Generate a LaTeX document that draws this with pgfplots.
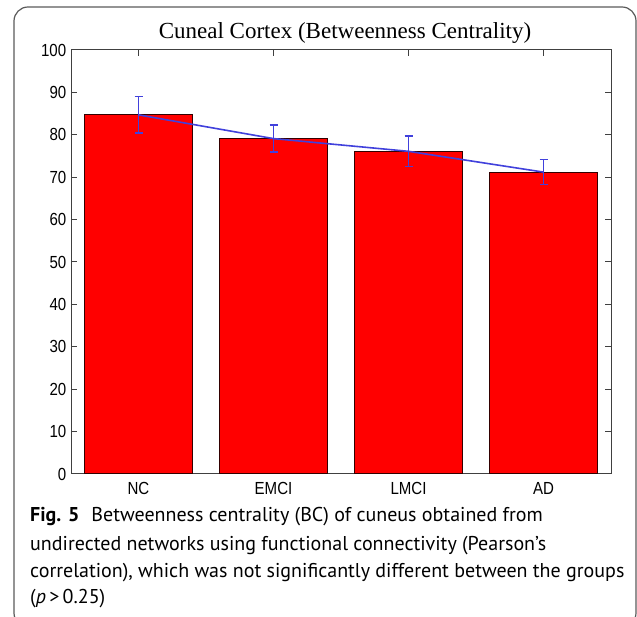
\documentclass[border=0pt]{standalone}
\usepackage{pgfplots}
\pgfplotsset{compat=1.18}
\usepackage{fontspec}
\setmainfont{Liberation Sans}
\newfontfamily\titlefont{Liberation Serif}
\newfontfamily\capfont{PT Sans}
\definecolor{barred}{RGB}{255,0,0}
\definecolor{lineblue}{RGB}{65,65,220}
\definecolor{framegray}{RGB}{90,90,90}
\begin{document}
\begin{tikzpicture}[x=1pt,y=1pt]
\useasboundingbox (0,0) rectangle (637,617);
\begin{scope}
\clip (0,0) rectangle (637,617);
\draw[framegray, line width=1.2pt, rounded corners=14pt] (14,-10) rectangle (636,610);
\end{scope}
\begin{axis}[at={(71pt,143pt)}, anchor=south west, scale only axis, width=540pt, height=424pt,
 xmin=0.5, xmax=4.5, ymin=0, ymax=100,
 xtick={1,2,3,4}, xticklabels={NC,EMCI,LMCI,AD},
 ytick={0,10,...,100},
 tick align=inside, major tick length=6pt,
 axis line style={black!75, line width=1pt}, tick style={black!75, line width=1pt},
 ticklabel style={font=\fontsize{17.5}{17.5}\selectfont, xscale=0.86},
 xticklabel style={yshift=-5pt},
 yticklabel style={xshift=-2pt},
 /pgf/number format/assume math mode=true,
 clip=false]
\addplot[ybar, bar width=0.8, fill=barred, draw=black!80!red, line width=1pt] coordinates {(1,84.7) (2,79.1) (3,76.1) (4,71.2)};
\addplot[lineblue, line width=1.6pt, mark=none, error bars/.cd, y dir=both, y explicit, error bar style={line width=1.6pt, lineblue}, error mark options={rotate=90, mark size=4pt, line width=1.6pt, lineblue}] coordinates {(1,84.7) +- (0,4.3) (2,79.1) +- (0,3.2) (3,76.1) +- (0,3.55) (4,71.2) +- (0,2.95)};
\end{axis}
\node[font=\titlefont\fontsize{23}{23}\selectfont] at (345,584) {Cuneal Cortex (Betweenness Centrality)};
\begin{scope}[every node/.style={anchor=west, inner sep=0pt, font=\capfont\fontsize{20}{20}\selectfont}]
\node at (30,100) {\textbf{Fig. 5}\hspace{0.6em}Betweenness centrality (BC) of cuneus obtained from};
\node at (30,71) {undirected networks using functional connectivity (Pearson’s};
\node at (30,44) {correlation), which was not significantly different between the groups};
\node at (30,18) {(\textit{p}\,>\,0.25)};
\end{scope}
\end{tikzpicture}
\end{document}
